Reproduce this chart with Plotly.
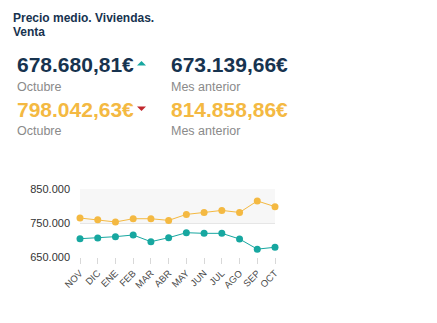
import plotly.graph_objects as go

months = ["NOV", "DIC", "ENE", "FEB", "MAR", "ABR", "MAY", "JUN", "JUL", "AGO", "SEP", "OCT"]
series_a = [703800, 705900, 709800, 714700, 695000, 706800, 721500, 719600, 719600, 702900, 673139.66, 678680.81]
series_b = [764700, 759700, 753000, 762600, 762600, 757700, 775300, 781000, 787000, 781000, 814858.86, 798042.63]
y_ticks = [650000, 750000, 850000]
y_tick_labels = ["650.000", "750.000", "850.000"]

title_lines = ["Precio medio. Viviendas.", "Venta"]
kpi_a = ("678.680,81€", "Octubre", "673.139,66€", "Mes anterior")
kpi_b = ("798.042,63€", "Octubre", "814.858,86€", "Mes anterior")

TEAL = "#17a7a0"
ORANGE = "#f4b942"
NAVY = "#17334f"
GREY = "#8a8a8a"
RED = "#c1272d"

W, H = 437, 323
L, R = 80, 275
T, B = 189, 257

def px(x):
    return (x - L) / (R - L)

def py(y):
    return (B - y) / (B - T)

fig = go.Figure()
fig.add_trace(go.Scatter(x=months, y=series_b, mode="lines+markers",
                         line=dict(color=ORANGE, width=1),
                         marker=dict(color=ORANGE, size=7, line=dict(width=0)),
                         cliponaxis=False, hoverinfo="skip"))
fig.add_trace(go.Scatter(x=months, y=series_a, mode="lines+markers",
                         line=dict(color=TEAL, width=1),
                         marker=dict(color=TEAL, size=7, line=dict(width=0)),
                         cliponaxis=False, hoverinfo="skip"))

shapes = [
    dict(type="rect", xref="paper", yref="y", x0=0, x1=1, y0=750000, y1=850000,
         fillcolor="#f7f7f7", line=dict(width=0), layer="below"),
    dict(type="path", xref="paper", yref="paper",
         path=f"M {px(137)},{py(65.5)} L {px(146)},{py(65.5)} L {px(141.5)},{py(61)} Z",
         fillcolor=TEAL, line=dict(width=0)),
    dict(type="path", xref="paper", yref="paper",
         path=f"M {px(137)},{py(106.5)} L {px(146)},{py(106.5)} L {px(141.5)},{py(111)} Z",
         fillcolor=RED, line=dict(width=0)),
]

ann = []
def text(x, y, s, size, color, bold=False):
    ann.append(dict(xref="paper", yref="paper", x=px(x), y=py(y), text=(f"<b>{s}</b>" if bold else s),
                    showarrow=False, xanchor="left", yanchor="middle",
                    font=dict(family="Liberation Sans, Arial", size=size, color=color)))

text(11, 18, title_lines[0], 12, NAVY, True)
text(11, 32, title_lines[1], 12, NAVY, True)
text(15, 64.5, kpi_a[0], 21, NAVY, True)
text(15, 87, kpi_a[1], 12.5, GREY)
text(169, 64.5, kpi_a[2], 21, NAVY, True)
text(169, 87, kpi_a[3], 12.5, GREY)
text(15, 109.5, kpi_b[0], 21, ORANGE, True)
text(15, 131, kpi_b[1], 12.5, GREY)
text(169, 109.5, kpi_b[2], 21, ORANGE, True)
text(169, 131, kpi_b[3], 12.5, GREY)

fig.update_layout(
    width=W, height=H,
    margin=dict(l=L, r=W - R, t=T, b=H - B, pad=0),
    paper_bgcolor="white", plot_bgcolor="white",
    showlegend=False,
    shapes=shapes, annotations=ann,
    font=dict(family="Liberation Sans, Arial"),
    xaxis=dict(type="category", range=[0, 11], showgrid=False, showline=False,
               ticks="outside", ticklen=6, tickcolor="#d8d8d8", tickwidth=1,
               tickangle=-45, tickfont=dict(size=9.5, color="#4a4a4a"), zeroline=False),
    yaxis=dict(range=[650000, 850000], tickvals=y_ticks, ticktext=y_tick_labels,
               showgrid=True, gridcolor="#e6e6e6", gridwidth=1, zeroline=False,
               tickfont=dict(size=11, color="#333333"), ticks="", showline=False,
               ticklabelstandoff=9),
)

fig.write_html("out.html")
